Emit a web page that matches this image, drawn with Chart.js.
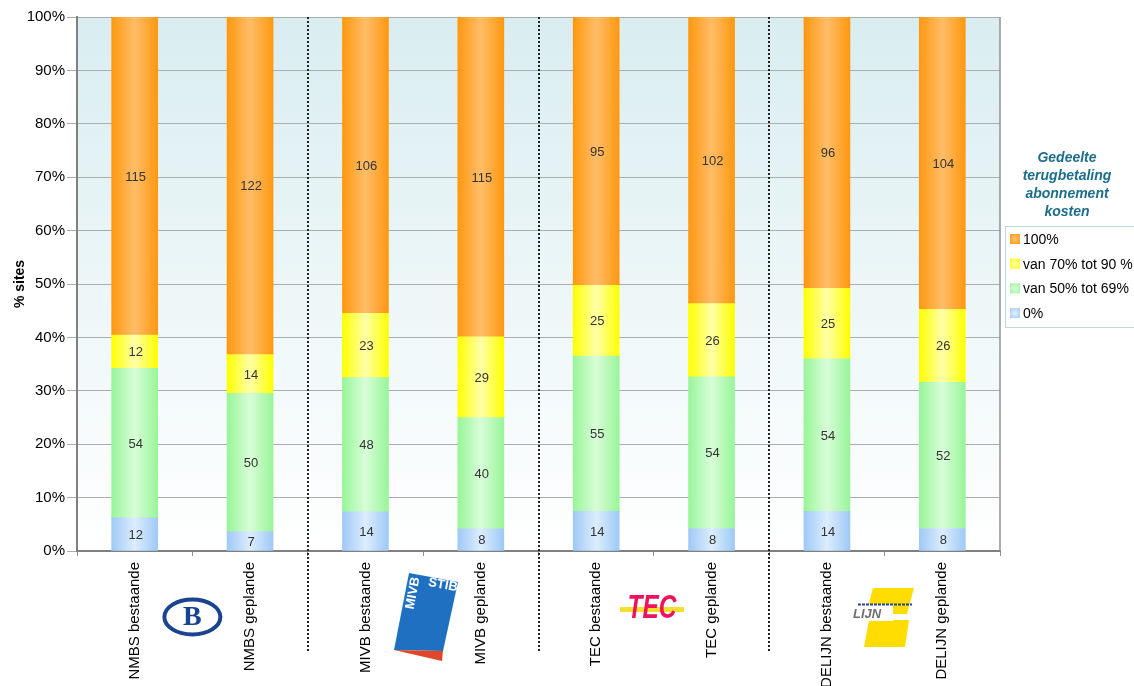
<!DOCTYPE html>
<html>
<head>
<meta charset="utf-8">
<script src="https://cdn.jsdelivr.net/npm/chart.js@4/dist/chart.umd.min.js"></script>
<style>
  html, body { margin: 0; padding: 0; background: #fff; }
  canvas { display: block; }
</style>
</head>
<body>
<canvas id="sitesChart" width="1134" height="686"></canvas>
<script>
const categories = [
    'NMBS bestaande', 'NMBS geplande',
    'MIVB bestaande', 'MIVB geplande',
    'TEC bestaande', 'TEC geplande',
    'DELIJN bestaande', 'DELIJN geplande'
];

// aantal sites per klasse (labels in de staven)
const count0 = [12, 7, 14, 8, 14, 8, 14, 8];
const count50to69 = [54, 50, 48, 40, 55, 54, 54, 52];
const count70to90 = [12, 14, 23, 29, 25, 26, 25, 26];
const count100 = [115, 122, 106, 115, 95, 102, 96, 104];

const seriesNames = ['0%', 'van 50% tot 69%', 'van 70% tot 90 %', '100%'];
const yTicks = [0, 10, 20, 30, 40, 50, 60, 70, 80, 90, 100];

const legendTitle = ['Gedeelte', 'terugbetaling', 'abonnement', 'kosten'];

// edge / centre colour for the glow effect
const colors = [
    ['#9fc9f6', '#dcedfd'],
    ['#98f598', '#d8fdd8'],
    ['#ffff00', '#ffffa8'],
    ['#ff9810', '#ffbd68']
];

const counts = [count0, count50to69, count70to90, count100];
const totals = categories.map((c, i) => counts.reduce((s, arr) => s + arr[i], 0));
const percent = arr => arr.map((v, i) => v / totals[i] * 100);

const FONT = "'Liberation Sans', Arial, sans-serif";
const BAR_W = 46;

function barFill(edge, mid) {
    return function (ctx) {
        const chart = ctx.chart;
        const xs = chart.scales && chart.scales.x;
        if (!chart.chartArea || !xs || ctx.dataIndex === undefined) return edge;
        const cx = xs.getPixelForValue(ctx.dataIndex);
        if (!isFinite(cx)) return edge;
        const g = chart.ctx.createLinearGradient(cx - BAR_W / 2, 0, cx + BAR_W / 2, 0);
        g.addColorStop(0, edge);
        g.addColorStop(0.5, mid);
        g.addColorStop(1, edge);
        return g;
    };
}

const datasets = counts.map((arr, k) => ({
    label: seriesNames[k],
    data: percent(arr),
    counts: arr,
    backgroundColor: barFill(colors[k][0], colors[k][1]),
    borderWidth: 0,
    barThickness: BAR_W
}));

const plotBackground = {
    id: 'plotBackground',
    beforeDraw(chart) {
        const { ctx, chartArea: a } = chart;
        const g = ctx.createLinearGradient(0, a.top, 0, a.bottom);
        g.addColorStop(0, '#d9edf0');
        g.addColorStop(1, '#ffffff');
        ctx.save();
        ctx.fillStyle = g;
        ctx.fillRect(a.left, a.top, a.right - a.left, a.bottom - a.top);
        ctx.restore();
    }
};

const extras = {
    id: 'extras',
    afterDatasetsDraw(chart) {
        const ctx = chart.ctx;
        ctx.save();
        ctx.font = '13px ' + FONT;
        ctx.fillStyle = '#333';
        ctx.textAlign = 'center';
        ctx.textBaseline = 'middle';
        chart.data.datasets.forEach((ds, k) => {
            chart.getDatasetMeta(k).data.forEach((el, i) => {
                ctx.fillText(String(ds.counts[i]), el.x + 1, (el.y + el.base) / 2 + 1);
            });
        });
        ctx.restore();
    },
    afterDraw(chart) {
        const { ctx, chartArea: a, scales } = chart;
        const xs = scales.x;
        const step = xs.getPixelForValue(1) - xs.getPixelForValue(0);

        // right border of plot
        ctx.save();
        ctx.strokeStyle = '#909090';
        ctx.lineWidth = 1.5;
        ctx.beginPath();
        ctx.moveTo(a.right, a.top);
        ctx.lineTo(a.right, a.bottom);
        ctx.stroke();

        // dotted separators between the operators
        ctx.strokeStyle = '#222';
        ctx.lineWidth = 2;
        ctx.setLineDash([2, 2]);
        [1, 3, 5].forEach(i => {
            const x = Math.round(xs.getPixelForValue(i) + step / 2);
            ctx.beginPath();
            ctx.moveTo(x, a.top);
            ctx.lineTo(x, 651);
            ctx.stroke();
        });
        ctx.setLineDash([]);

        // legend title
        ctx.fillStyle = '#1b6e8b';
        ctx.font = 'italic bold 14px ' + FONT;
        ctx.textAlign = 'center';
        ctx.textBaseline = 'middle';
        legendTitle.forEach((t, i) => ctx.fillText(t, 1067, 158 + i * 18));

        // legend box
        ctx.strokeStyle = '#c4d6de';
        ctx.lineWidth = 1;
        ctx.strokeRect(1005.5, 226.5, 140, 101);
        ctx.font = '14px ' + FONT;
        ctx.textAlign = 'left';
        for (let j = 0; j < 4; j++) {
            const k = 3 - j;
            const y = 239 + j * 24.7;
            const g = ctx.createRadialGradient(1015, y, 1, 1015, y, 7);
            g.addColorStop(0, colors[k][1]);
            g.addColorStop(1, colors[k][0]);
            ctx.fillStyle = g;
            ctx.fillRect(1010, y - 5, 10, 10);
            ctx.fillStyle = '#000';
            ctx.fillText(seriesNames[k], 1023, y + 1);
        }

        // logos (simple drawings)
        const mid = i => xs.getPixelForValue(i) + step / 2;

        // NMBS
        let cx = mid(0);
        ctx.strokeStyle = '#1a4390';
        ctx.lineWidth = 4;
        ctx.beginPath();
        ctx.ellipse(cx, 617, 28, 17.5, 0, 0, Math.PI * 2);
        ctx.stroke();
        ctx.fillStyle = '#1a4390';
        ctx.font = "bold 28px 'Liberation Serif', serif";
        ctx.textAlign = 'center';
        ctx.textBaseline = 'middle';
        ctx.fillText('B', cx, 618);

        // MIVB / STIB
        ctx.fillStyle = '#1f70c1';
        ctx.beginPath();
        ctx.moveTo(409, 573); ctx.lineTo(458, 582); ctx.lineTo(443, 651); ctx.lineTo(394, 650);
        ctx.closePath();
        ctx.fill();
        ctx.fillStyle = '#e2462a';
        ctx.beginPath();
        ctx.moveTo(394, 650); ctx.lineTo(443, 651); ctx.lineTo(442, 661);
        ctx.closePath();
        ctx.fill();
        ctx.fillStyle = '#fff';
        ctx.font = 'bold 13px ' + FONT;
        ctx.save();
        ctx.translate(443, 585);
        ctx.rotate(0.18);
        ctx.fillText('STIB', 0, 0);
        ctx.restore();
        ctx.save();
        ctx.translate(413, 593);
        ctx.rotate(-Math.PI / 2 + 0.18);
        ctx.fillText('MIVB', 0, 0);
        ctx.restore();

        // TEC
        ctx.fillStyle = '#f3df2c';
        ctx.fillRect(620, 607, 64, 5);
        ctx.save();
        ctx.translate(652, 609);
        ctx.scale(0.72, 1);
        ctx.fillStyle = '#f0135b';
        ctx.font = 'italic bold 34px ' + FONT;
        ctx.fillText('TEC', 0, 0);
        ctx.restore();

        // De Lijn
        ctx.fillStyle = '#ffdd00';
        ctx.beginPath();
        ctx.moveTo(873, 588); ctx.lineTo(914, 588); ctx.lineTo(907, 614); ctx.lineTo(866, 614);
        ctx.closePath();
        ctx.fill();
        ctx.beginPath();
        ctx.moveTo(869, 620); ctx.lineTo(909, 620); ctx.lineTo(905, 647); ctx.lineTo(864, 647);
        ctx.closePath();
        ctx.fill();
        ctx.fillStyle = '#fff';
        ctx.fillRect(850, 604, 43, 17);
        ctx.strokeStyle = '#2a3fa0';
        ctx.lineWidth = 2;
        ctx.setLineDash([3, 1]);
        ctx.beginPath();
        ctx.moveTo(858, 604.5);
        ctx.lineTo(912, 604.5);
        ctx.stroke();
        ctx.setLineDash([]);
        ctx.fillStyle = '#707070';
        ctx.font = 'italic bold 13px ' + FONT;
        ctx.textAlign = 'left';
        ctx.fillText('LIJN', 853, 614);
        ctx.restore();
    }
};

new Chart(document.getElementById('sitesChart'), {
    type: 'bar',
    data: {
        labels: categories,
        datasets: datasets
    },
    options: {
        responsive: false,
        animation: false,
        layout: {
            padding: { left: 0, right: 134, top: 17, bottom: 0 }
        },
        plugins: {
            legend: { display: false },
            tooltip: { enabled: false }
        },
        scales: {
            x: {
                stacked: true,
                grid: {
                    offset: true,
                    drawOnChartArea: false,
                    color: '#909090',
                    tickLength: 5
                },
                border: { color: '#808080', width: 2 },
                ticks: {
                    minRotation: 90,
                    maxRotation: 90,
                    autoSkip: false,
                    padding: 6,
                    color: '#000',
                    font: { size: 15, family: FONT }
                },
                afterFit(scale) { scale.height = 135; }
            },
            y: {
                stacked: true,
                min: 0,
                max: 100,
                afterBuildTicks(scale) { scale.ticks = yTicks.map(v => ({ value: v })); },
                grid: { color: '#a9afb0', tickLength: 10 },
                border: { color: '#808080', width: 2 },
                ticks: {
                    padding: 2,
                    color: '#000',
                    font: { size: 15, family: FONT },
                    callback: v => v + '%'
                },
                title: {
                    display: true,
                    text: '% sites',
                    color: '#000',
                    padding: { top: 12, bottom: 0 },
                    font: { size: 14, weight: 'bold', family: FONT }
                },
                afterFit(scale) { scale.width = 77; }
            }
        }
    },
    plugins: [plotBackground, extras]
});
</script>
</body>
</html>
